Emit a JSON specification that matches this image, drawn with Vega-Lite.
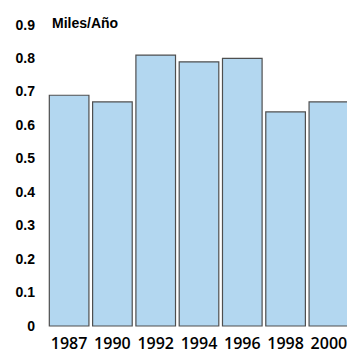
{
  "$schema": "https://vega.github.io/schema/vega-lite/v6.json",
  "width": 303,
  "height": 301,
  "autosize": {"type": "none"},
  "padding": {"left": 47.5, "top": 25, "right": 0, "bottom": 26},
  "background": "white",
  "config": {"view": {"stroke": null}},
  "data": {
    "values": [
      {"year": "1987", "miles": 0.69},
      {"year": "1990", "miles": 0.67},
      {"year": "1992", "miles": 0.81},
      {"year": "1994", "miles": 0.79},
      {"year": "1996", "miles": 0.80},
      {"year": "1998", "miles": 0.64},
      {"year": "2000", "miles": 0.67}
    ]
  },
  "mark": {"type": "bar", "fill": "#b3d7f0", "stroke": "#4f4f4f", "strokeWidth": 1.2},
  "encoding": {
    "x": {
      "field": "year",
      "type": "ordinal",
      "scale": {"paddingInner": 0.085, "paddingOuter": 0.042},
      "axis": {
        "title": null,
        "labelAngle": 0,
        "domain": false,
        "ticks": false,
        "labelPadding": 9,
        "labelFont": "Open Sans",
        "labelFontWeight": 600,
        "labelFontSize": 16,
        "labelColor": "#000000"
      }
    },
    "y": {
      "field": "miles",
      "type": "quantitative",
      "scale": {"domain": [0, 0.9], "nice": false},
      "axis": {
        "title": "Miles/Año",
        "titleAngle": 0,
        "titleAlign": "left",
        "titleBaseline": "alphabetic",
        "titleX": 4,
        "titleY": 2.5,
        "titleFont": "Liberation Sans",
        "titleFontWeight": "bold",
        "titleFontSize": 14,
        "titleColor": "#000000",
        "values": [0, 0.1, 0.2, 0.3, 0.4, 0.5, 0.6, 0.7, 0.8, 0.9],
        "format": ".1~f",
        "grid": false,
        "domain": false,
        "ticks": false,
        "labelPadding": 13,
        "labelFont": "Liberation Sans",
        "labelFontWeight": "bold",
        "labelFontSize": 14,
        "labelColor": "#000000"
      }
    }
  }
}
